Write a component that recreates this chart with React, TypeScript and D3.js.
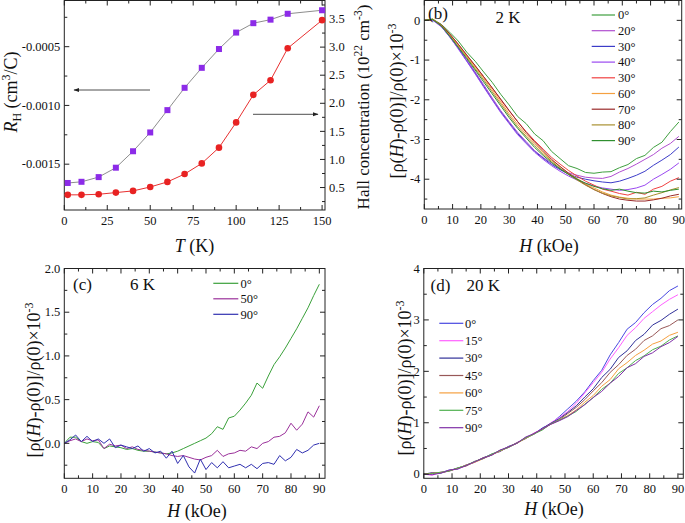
import React from "react";
import * as d3 from "d3";

const FONT = '"Liberation Serif", "Times New Roman", Times, serif';

// ---------- panel (a) ----------
const tempA = [2, 10, 20, 30, 40, 50, 60, 70, 80, 90, 100, 110, 120, 130, 150];
const hallCoefA = [-0.00166, -0.00165, -0.00161, -0.00153, -0.00139, -0.00123, -0.00104, -0.00085, -0.00068, -0.00052, -0.00038, -0.0003, -0.00027, -0.00022, -0.00019];
const hallConcA = [0.37, 0.37, 0.38, 0.41, 0.44, 0.51, 0.6, 0.74, 0.93, 1.21, 1.66, 2.15, 2.41, 2.98, 3.48];
const ticksTA = [0, 25, 50, 75, 100, 125, 150];
const ticksRHA = [-0.0015, -0.001, -0.0005];
const tickLabelsRHA = ["-0.0015", "-0.0010", "-0.0005"];
const ticksNA = [0.5, 1.0, 1.5, 2.0, 2.5, 3.0, 3.5];
const tickLabelsNA = ["0.5", "1.0", "1.5", "2.0", "2.5", "3.0", "3.5"];

// ---------- panel (b) 2 K ----------
const fieldB = [0, 3, 6, 9, 12, 15, 18, 21, 24, 27, 30, 33, 36, 39, 42, 45, 48, 51, 54, 57, 60, 63, 66, 69, 72, 75, 78, 81, 84, 87, 90];
const b0 = [0, 0.03, -0.1, -0.3, -0.52, -0.8, -1.03, -1.3, -1.56, -1.86, -2.13, -2.42, -2.6, -2.86, -3.03, -3.3, -3.48, -3.66, -3.73, -3.83, -3.85, -3.82, -3.81, -3.71, -3.63, -3.48, -3.4, -3.2, -3.07, -2.8, -2.56];
const b20 = [0, 0.01, -0.14, -0.4, -0.68, -0.98, -1.3, -1.62, -1.95, -2.27, -2.55, -2.82, -3.05, -3.28, -3.45, -3.6, -3.74, -3.84, -3.9, -3.95, -3.97, -3.98, -3.93, -3.82, -3.73, -3.62, -3.5, -3.38, -3.22, -3.1, -2.92];
const b30 = [0, 0.02, -0.15, -0.42, -0.7, -1.02, -1.33, -1.66, -1.99, -2.3, -2.58, -2.85, -3.08, -3.3, -3.47, -3.63, -3.76, -3.87, -3.95, -4.0, -4.04, -4.07, -4.09, -4.05, -3.98, -3.9, -3.8, -3.65, -3.52, -3.38, -3.19];
const b40 = [0, 0.0, -0.16, -0.41, -0.72, -1.03, -1.35, -1.68, -2.0, -2.32, -2.6, -2.88, -3.1, -3.32, -3.5, -3.66, -3.8, -3.92, -4.02, -4.1, -4.17, -4.22, -4.25, -4.28, -4.26, -4.22, -4.15, -4.0, -3.88, -3.75, -3.59];
const b50 = [0, 0.02, -0.12, -0.35, -0.6, -0.88, -1.15, -1.42, -1.7, -2.0, -2.28, -2.55, -2.8, -3.03, -3.24, -3.45, -3.62, -3.78, -3.92, -4.05, -4.15, -4.25, -4.3, -4.36, -4.4, -4.33, -4.38, -4.25, -4.18, -4.05, -3.96];
const b60 = [0, 0.03, -0.12, -0.36, -0.62, -0.9, -1.18, -1.46, -1.75, -2.05, -2.35, -2.62, -2.87, -3.1, -3.32, -3.52, -3.68, -3.85, -3.98, -4.12, -4.22, -4.32, -4.4, -4.45, -4.48, -4.5, -4.5, -4.5, -4.48, -4.47, -4.44];
const b70 = [0, 0.02, -0.11, -0.34, -0.6, -0.87, -1.14, -1.42, -1.7, -1.98, -2.27, -2.55, -2.82, -3.06, -3.28, -3.5, -3.68, -3.85, -4.0, -4.14, -4.26, -4.36, -4.44, -4.5, -4.53, -4.55, -4.55, -4.52, -4.48, -4.42, -4.38];
const b80 = [0, 0.03, -0.13, -0.38, -0.65, -0.93, -1.22, -1.5, -1.8, -2.1, -2.4, -2.68, -2.92, -3.15, -3.36, -3.55, -3.72, -3.88, -4.02, -4.15, -4.26, -4.35, -4.42, -4.46, -4.5, -4.49, -4.47, -4.4, -4.34, -4.27, -4.21];
const b90 = [0, 0.02, -0.14, -0.4, -0.68, -0.96, -1.25, -1.55, -1.85, -2.15, -2.45, -2.72, -2.96, -3.2, -3.4, -3.58, -3.74, -3.88, -4.0, -4.1, -4.18, -4.24, -4.28, -4.25, -4.3, -4.34, -4.35, -4.3, -4.32, -4.28, -4.25];
const labelsB = ["0°", "20°", "30°", "40°", "30°", "60°", "70°", "80°", "90°"];
const colorsB = ["#3f9f3f", "#b04fd0", "#3c3cc8", "#9a48f0", "#f04040", "#f5a040", "#9a2a2a", "#a89030", "#2f8f2f"];
const seriesB = [b0, b20, b30, b40, b50, b60, b70, b80, b90];
const ticksXB = [0, 10, 20, 30, 40, 50, 60, 70, 80, 90];
const ticksYB = [-4, -3, -2, -1, 0];

// ---------- panel (c) 6 K ----------
const fieldC = [0, 2, 4, 6, 8, 10, 12, 14, 16, 18, 20, 22, 24, 26, 28, 30, 32, 34, 36, 38, 40, 42, 44, 46, 48, 50, 52, 54, 56, 58, 60, 62, 64, 66, 68, 70, 72, 74, 76, 78, 80, 82, 84, 86, 88, 90];
const c0 = [0, 0.07, 0.07, 0.02, 0.0, 0.02, 0.01, -0.06, -0.03, -0.04, -0.05, -0.07, -0.06, -0.08, -0.09, -0.09, -0.1, -0.11, -0.12, -0.11, -0.09, -0.06, -0.03, 0.0, 0.03, 0.06, 0.11, 0.19, 0.16, 0.29, 0.31, 0.38, 0.46, 0.55, 0.69, 0.63, 0.77, 0.9, 0.99, 1.09, 1.2, 1.31, 1.43, 1.55, 1.69, 1.82];
const c50 = [0, 0.03, 0.05, 0.02, 0.05, 0.03, 0.04, -0.06, -0.01, -0.03, -0.02, -0.06, -0.04, -0.07, -0.08, -0.09, -0.1, -0.11, -0.12, -0.14, -0.15, -0.14, -0.16, -0.18, -0.19, -0.16, -0.14, -0.08, -0.15, -0.12, -0.11, -0.08, -0.09, -0.04, -0.06, 0.0, 0.02, 0.07, 0.08, 0.12, 0.23, 0.15, 0.22, 0.36, 0.3, 0.43];
const c90 = [0, 0.04, 0.095, 0.02, 0.08, 0.02, 0.05, 0.0, 0.05, -0.05, -0.02, -0.04, -0.06, -0.03, -0.09, -0.06, -0.11, -0.09, -0.17, -0.09, -0.23, -0.14, -0.27, -0.34, -0.18, -0.3, -0.22, -0.28, -0.21, -0.28, -0.26, -0.24, -0.28, -0.24, -0.29, -0.23, -0.22, -0.24, -0.14, -0.2, -0.16, -0.07, -0.11, -0.08, -0.02, 0.0];
const labelsC = ["0°", "50°", "90°"];
const colorsC = ["#3aa03a", "#9a309a", "#3030b0"];
const seriesC = [c0, c50, c90];
const ticksYC = [0, 0.5, 1.0, 1.5, 2.0];
const tickLabelsYC = ["0.0", "0.5", "1.0", "1.5", "2.0"];

// ---------- panel (d) 20 K ----------
const fieldD = [0, 3, 6, 9, 12, 15, 18, 21, 24, 27, 30, 33, 36, 39, 42, 45, 48, 51, 54, 57, 60, 63, 66, 69, 72, 75, 78, 81, 84, 87, 90];
const d0 = [0.0, 0.02, 0.03, 0.08, 0.1, 0.18, 0.23, 0.32, 0.37, 0.46, 0.53, 0.61, 0.7, 0.78, 0.9, 0.98, 1.12, 1.27, 1.42, 1.6, 1.82, 2.02, 2.32, 2.56, 2.82, 2.95, 3.14, 3.3, 3.42, 3.57, 3.66];
const d15 = [0.0, -0.02, 0.04, 0.06, 0.11, 0.16, 0.25, 0.3, 0.38, 0.45, 0.52, 0.62, 0.69, 0.8, 0.88, 1.0, 1.1, 1.22, 1.38, 1.58, 1.78, 1.98, 2.24, 2.46, 2.7, 2.85, 3.03, 3.16, 3.29, 3.4, 3.49];
const d30 = [0.0, 0.03, 0.02, 0.07, 0.12, 0.17, 0.24, 0.31, 0.39, 0.44, 0.54, 0.6, 0.71, 0.78, 0.89, 0.99, 1.08, 1.2, 1.33, 1.5, 1.66, 1.88, 2.04, 2.27, 2.4, 2.6, 2.72, 2.9, 2.99, 3.11, 3.21];
const d45 = [0.0, 0.01, 0.03, 0.06, 0.12, 0.16, 0.24, 0.32, 0.37, 0.46, 0.52, 0.61, 0.69, 0.79, 0.87, 0.98, 1.06, 1.18, 1.3, 1.45, 1.62, 1.78, 1.98, 2.13, 2.31, 2.43, 2.6, 2.69, 2.83, 2.89, 3.0];
const d60 = [0.0, 0.02, 0.03, 0.07, 0.11, 0.18, 0.23, 0.3, 0.38, 0.45, 0.53, 0.6, 0.7, 0.78, 0.88, 0.97, 1.05, 1.14, 1.25, 1.4, 1.53, 1.71, 1.84, 2.05, 2.17, 2.31, 2.41, 2.53, 2.59, 2.7, 2.76];
const d75 = [0.0, 0.01, 0.04, 0.06, 0.12, 0.17, 0.25, 0.3, 0.39, 0.46, 0.52, 0.61, 0.7, 0.78, 0.86, 0.98, 1.05, 1.13, 1.22, 1.36, 1.49, 1.65, 1.77, 1.96, 2.07, 2.21, 2.3, 2.42, 2.49, 2.61, 2.69];
const d90 = [0.0, -0.01, 0.02, 0.08, 0.1, 0.17, 0.24, 0.31, 0.37, 0.47, 0.53, 0.6, 0.72, 0.79, 0.88, 0.97, 1.04, 1.12, 1.24, 1.35, 1.49, 1.61, 1.77, 1.9, 2.07, 2.15, 2.29, 2.36, 2.48, 2.56, 2.68];
const labelsD = ["0°", "15°", "30°", "45°", "60°", "75°", "90°"];
const colorsD = ["#4848e0", "#ff60ff", "#303098", "#985858", "#f5a040", "#50b050", "#8030a8"];
const seriesD = [d0, d15, d30, d45, d60, d75, d90];
const ticksYD = [0, 1, 2, 3, 4];

function minorOf(major: number[], domain: number[]) {
  const step = major[1] - major[0];
  const lo = Math.min(domain[0], domain[1]);
  const hi = Math.max(domain[0], domain[1]);
  const out: number[] = [];
  const start = major[0] - step * 4;
  for (let i = 0; i < major.length + 8; i++) {
    const v = start + step * i + step / 2;
    if (v > lo + 1e-9 && v < hi - 1e-9) out.push(v);
  }
  return out;
}

function Frame({ xs, ys, xMajor, yMajor, xLabels, yLabels, ys2, y2Major, y2Labels }: any) {
  const [x0, x1] = xs.range();
  const [y0, y1] = ys.range();
  const xMinor = minorOf(xMajor, xs.domain());
  const yMinor = minorOf(yMajor, ys.domain());
  const M = 5, m = 3;
  const els: any[] = [];
  xMajor.forEach((v: number, i: number) => {
    const x = xs(v);
    els.push(<line key={"xb" + i} x1={x} x2={x} y1={y0} y2={y0 - M} />);
    els.push(<line key={"xt" + i} x1={x} x2={x} y1={y1} y2={y1 + M} />);
  });
  xMinor.forEach((v: number, i: number) => {
    const x = xs(v);
    els.push(<line key={"xbm" + i} x1={x} x2={x} y1={y0} y2={y0 - m} />);
    els.push(<line key={"xtm" + i} x1={x} x2={x} y1={y1} y2={y1 + m} />);
  });
  yMajor.forEach((v: number, i: number) => {
    const y = ys(v);
    els.push(<line key={"yl" + i} x1={x0} x2={x0 + M} y1={y} y2={y} />);
    if (!ys2) els.push(<line key={"yr" + i} x1={x1} x2={x1 - M} y1={y} y2={y} />);
  });
  yMinor.forEach((v: number, i: number) => {
    const y = ys(v);
    els.push(<line key={"ylm" + i} x1={x0} x2={x0 + m} y1={y} y2={y} />);
    if (!ys2) els.push(<line key={"yrm" + i} x1={x1} x2={x1 - m} y1={y} y2={y} />);
  });
  const texts: any[] = [];
  xMajor.forEach((v: number, i: number) => {
    texts.push(
      <text key={"xl" + i} x={xs(v)} y={y0 + 14.5} textAnchor="middle">{xLabels[i]}</text>
    );
  });
  yMajor.forEach((v: number, i: number) => {
    texts.push(
      <text key={"yll" + i} x={x0 - 4} y={ys(v) + 4.2} textAnchor="end">{yLabels[i]}</text>
    );
  });
  if (ys2) {
    const y2Minor = minorOf(y2Major, ys2.domain());
    y2Major.forEach((v: number, i: number) => {
      const y = ys2(v);
      els.push(<line key={"y2" + i} x1={x1} x2={x1 - M} y1={y} y2={y} />);
      texts.push(
        <text key={"y2l" + i} x={x1 + 4} y={y + 4.2} textAnchor="start">{y2Labels[i]}</text>
      );
    });
    y2Minor.forEach((v: number, i: number) => {
      const y = ys2(v);
      els.push(<line key={"y2m" + i} x1={x1} x2={x1 - m} y1={y} y2={y} />);
    });
  }
  return (
    <g>
      <g stroke="#222" strokeWidth={1}>
        {els}
      </g>
      <rect x={x0} y={y1} width={x1 - x0} height={y0 - y1} fill="none" stroke="#222" strokeWidth={1} />
      <g fontSize={12.5} fontFamily={FONT} fill="#111">{texts}</g>
    </g>
  );
}

function Legend({ labels, colors, xa, xb, xt, y0, dy, fs }: any) {
  return (
    <g fontSize={fs} fontFamily={FONT}>
      {labels.map((l: string, i: number) => (
        <g key={i}>
          <line x1={xa} x2={xb} y1={y0 + i * dy} y2={y0 + i * dy} stroke={colors[i]} strokeWidth={1.2} />
          <text x={xt} y={y0 + i * dy + 4.3} fill="#111">{l}</text>
        </g>
      ))}
    </g>
  );
}

function RhoLabel({ x, y }: { x: number; y: number }) {
  return (
    <text transform={`translate(${x},${y}) rotate(-90)`} textAnchor="middle" fontSize={18} fill="#111">
      [ρ(<tspan fontStyle="italic">H</tspan>)-ρ(0)]/ρ(0)×10
      <tspan dy={-7} fontSize={12}>-3</tspan>
    </text>
  );
}

function HLabel({ x, y }: { x: number; y: number }) {
  return (
    <text x={x} y={y} textAnchor="middle" fontSize={18} fill="#111">
      <tspan fontStyle="italic">H</tspan> (kOe)
    </text>
  );
}

function Curves({ xs, ys, field, series, colors, id }: any) {
  const [x0, x1] = xs.range();
  const [y0, y1] = ys.range();
  const line = d3
    .line<number>()
    .x((_, i) => xs(field[i]))
    .y((d) => ys(d));
  return (
    <g>
      <defs>
        <clipPath id={id}>
          <rect x={x0} y={y1} width={x1 - x0} height={y0 - y1} />
        </clipPath>
      </defs>
      <g clipPath={`url(#${id})`} fill="none" strokeWidth={1} strokeLinejoin="round">
        {series.map((s: number[], i: number) => (
          <path key={i} d={line(s) || ""} stroke={colors[i]} />
        ))}
      </g>
    </g>
  );
}

export default function App() {
  // panel a
  const xA = d3.scaleLinear().domain([0, 151.7]).range([64.3, 325]);
  const yA = d3.scaleLinear().domain([-0.00189, -0.000107]).range([210, 0.5]);
  const yA2 = d3.scaleLinear().domain([0.1, 3.83]).range([210, 0.5]);
  const lineRH = d3.line<number>().x((_, i) => xA(tempA[i])).y((d) => yA(d));
  const lineN = d3.line<number>().x((_, i) => xA(tempA[i])).y((d) => yA2(d));

  // panel b
  const xB = d3.scaleLinear().domain([0, 91]).range([424.3, 681.7]);
  const yB = d3.scaleLinear().domain([-4.75, 0.5]).range([209, 0.5]);

  // panel c
  const xC = d3.scaleLinear().domain([0, 92]).range([64.3, 325]);
  const yC = d3.scaleLinear().domain([-0.4, 2.0]).range([478.3, 268.5]);

  // panel d
  const xD = d3.scaleLinear().domain([0, 91.9]).range([423.8, 683.3]);
  const yD = d3.scaleLinear().domain([-0.08, 4.0]).range([478.3, 268.5]);

  const sq = 6;

  return (
    <svg
      width={685}
      height={523}
      viewBox="0 0 685 523"
      style={{ position: "absolute", left: 0, top: 0, background: "#fff" }}
      fontFamily={FONT}
    >
      <rect x={0} y={0} width={685} height={523} fill="#fff" />

      {/* ---------- (a) ---------- */}
      <Frame
        xs={xA}
        ys={yA}
        xMajor={ticksTA}
        xLabels={ticksTA.map(String)}
        yMajor={ticksRHA}
        yLabels={tickLabelsRHA}
        ys2={yA2}
        y2Major={ticksNA}
        y2Labels={tickLabelsNA}
      />
      <path d={lineRH(hallCoefA) || ""} fill="none" stroke="#808080" strokeWidth={0.9} />
      <path d={lineN(hallConcA) || ""} fill="none" stroke="#e83030" strokeWidth={1} />
      {hallCoefA.map((v, i) => (
        <rect key={"s" + i} x={xA(tempA[i]) - sq / 2} y={yA(v) - sq / 2} width={sq} height={sq} fill="#8c2be8" />
      ))}
      {hallConcA.map((v, i) => (
        <circle key={"c" + i} cx={xA(tempA[i])} cy={yA2(v)} r={3.3} fill="#e82222" />
      ))}
      <defs>
        <marker id="arr" viewBox="0 0 10 10" refX={9} refY={5} markerWidth={7} markerHeight={7} orient="auto-start-reverse">
          <path d="M0,1.5 L10,5 L0,8.5 z" fill="#222" />
        </marker>
      </defs>
      <line x1={150} y1={90} x2={74} y2={90} stroke="#222" strokeWidth={0.8} markerEnd="url(#arr)" />
      <line x1={253} y1={114.3} x2={318} y2={114.3} stroke="#222" strokeWidth={0.8} markerEnd="url(#arr)" />
      <text x={194.5} y={252} textAnchor="middle" fontSize={18} fill="#111">
        <tspan fontStyle="italic">T</tspan> (K)
      </text>
      <text transform="translate(17,92) rotate(-90)" textAnchor="middle" fontSize={18} fill="#111">
        <tspan fontStyle="italic">R</tspan>
        <tspan dy={4} fontSize={12}>H</tspan>
        <tspan dy={-4}> (cm</tspan>
        <tspan dy={-7} fontSize={12}>3</tspan>
        <tspan dy={7}>/C)</tspan>
      </text>
      <text transform="translate(368.5,107) rotate(-90)" textAnchor="middle" fontSize={17} fill="#111">
        Hall concentration (10
        <tspan dy={-7} fontSize={11.5}>22</tspan>
        <tspan dy={7}> cm</tspan>
        <tspan dy={-7} fontSize={11.5}>-3</tspan>
        <tspan dy={7}>)</tspan>
      </text>

      {/* ---------- (b) ---------- */}
      <Curves xs={xB} ys={yB} field={fieldB} series={seriesB} colors={colorsB} id="clipB" />
      <Frame
        xs={xB}
        ys={yB}
        xMajor={ticksXB}
        xLabels={ticksXB.map(String)}
        yMajor={ticksYB}
        yLabels={ticksYB.map(String)}
      />
      <Legend labels={labelsB} colors={colorsB} xa={591.7} xb={615} xt={618} y0={15} dy={15.7} fs={12.5} />
      <text x={428} y={19} fontSize={17} fill="#111">(b)</text>
      <text x={495.5} y={23} fontSize={17} fill="#111">2 K</text>
      <RhoLabel x={403} y={101} />
      <HLabel x={549} y={252} />

      {/* ---------- (c) ---------- */}
      <Curves xs={xC} ys={yC} field={fieldC} series={seriesC} colors={colorsC} id="clipC" />
      <Frame
        xs={xC}
        ys={yC}
        xMajor={ticksXB}
        xLabels={ticksXB.map(String)}
        yMajor={ticksYC}
        yLabels={tickLabelsYC}
      />
      <Legend labels={labelsC} colors={colorsC} xa={213.3} xb={238.3} xt={240.5} y0={283.3} dy={15.5} fs={12.5} />
      <text x={73} y={290} fontSize={17} fill="#111">(c)</text>
      <text x={130} y={290} fontSize={17} fill="#111">6 K</text>
      <RhoLabel x={40} y={380} />
      <HLabel x={197} y={517} />

      {/* ---------- (d) ---------- */}
      <Curves xs={xD} ys={yD} field={fieldD} series={seriesD} colors={colorsD} id="clipD" />
      <Frame
        xs={xD}
        ys={yD}
        xMajor={ticksXB}
        xLabels={ticksXB.map(String)}
        yMajor={ticksYD}
        yLabels={ticksYD.map(String)}
      />
      <Legend labels={labelsD} colors={colorsD} xa={439.3} xb={463.3} xt={465} y0={323.3} dy={17.4} fs={12.5} />
      <text x={430.5} y={291} fontSize={17} fill="#111">(d)</text>
      <text x={466.5} y={291} fontSize={17} fill="#111">20 K</text>
      <RhoLabel x={411} y={378} />
      <HLabel x={554} y={515} />
    </svg>
  );
}
